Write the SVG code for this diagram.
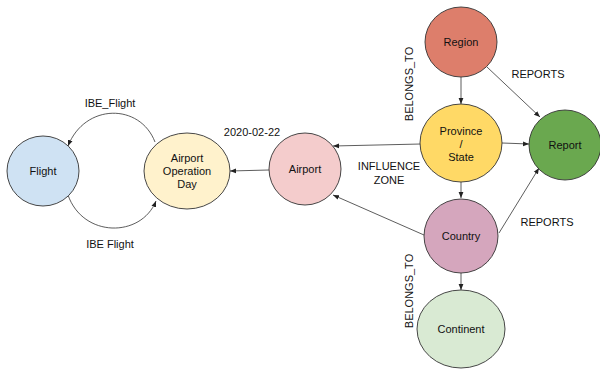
<svg xmlns="http://www.w3.org/2000/svg" width="600" height="369" viewBox="0 0 600 369">
<style>
.n{stroke:#333;stroke-width:0.9}
.t{font-family:"Liberation Sans",Arial,sans-serif;font-size:11px;fill:#111;text-anchor:middle}
.e{fill:none;stroke:#333;stroke-width:0.8;marker-end:url(#a)}
</style>
<defs>
<marker id="a" viewBox="0 0 10 10" refX="10" refY="5" markerWidth="6" markerHeight="6" markerUnits="userSpaceOnUse" orient="auto">
<path d="M0,1 L10,5 L0,9 z" fill="#222"/>
</marker>
</defs>
<rect width="600" height="369" fill="#fff"/>
<g id="connectors">
<path class="e" d="M461,77 L461,104"/>
<path class="e" d="M487,67 L540,117"/>
<path class="e" d="M502,143 L529,144"/>
<path class="e" d="M461,182 L461,198"/>
<path class="e" d="M421,144 L333,146"/>
<path class="e" d="M424,235 L333,195"/>
<path class="e" d="M499,233 L539,168"/>
<path class="e" d="M461,273 L461,290"/>
<path class="e" d="M269,170 L230,171"/>
<path class="e" d="M155,142 C140,103 85,103 68,146"/>
<path class="e" d="M68,195 C83,238 141,238 156,201"/>
<text class="t" x="110" y="107">IBE_Flight</text>
<text class="t" x="110" y="248">IBE Flight</text>
<text class="t" x="252" y="136">2020-02-22</text>
<text class="t" x="389" y="170">INFLUENCE</text>
<text class="t" x="389" y="184">ZONE</text>
<text class="t" transform="translate(413,84) rotate(-90)">BELONGS_TO</text>
<text class="t" transform="translate(413,291) rotate(-90)">BELONGS_TO</text>
<text class="t" x="538" y="78">REPORTS</text>
<text class="t" x="547" y="226">REPORTS</text>
</g>
<g id="flight"><ellipse class="n" cx="43" cy="171" rx="36" ry="35" fill="#cfe2f3"/><text class="t" x="43" y="175">Flight</text></g>
<g id="aod"><ellipse class="n" cx="187" cy="171" rx="43" ry="38" fill="#fff2cc"/><text class="t" x="187" y="162">Airport</text><text class="t" x="187" y="175">Operation</text><text class="t" x="187" y="188">Day</text></g>
<g id="airport"><ellipse class="n" cx="305" cy="169" rx="36" ry="36" fill="#f4cccc"/><text class="t" x="305" y="173">Airport</text></g>
<g id="region"><ellipse class="n" cx="461" cy="42" rx="36" ry="35" fill="#dd7e6b"/><text class="t" x="461" y="46">Region</text></g>
<g id="province"><ellipse class="n" cx="461" cy="143" rx="41" ry="39" fill="#ffd966"/><text class="t" x="461" y="135">Province</text><text class="t" x="461" y="148">/</text><text class="t" x="461" y="161">State</text></g>
<g id="report"><ellipse class="n" cx="565" cy="145" rx="36" ry="35" fill="#6aa84f"/><text class="t" x="565" y="149">Report</text></g>
<g id="country"><ellipse class="n" cx="461" cy="236" rx="37" ry="37" fill="#d5a6bd"/><text class="t" x="461" y="240">Country</text></g>
<g id="continent"><ellipse class="n" cx="461" cy="329" rx="44" ry="39" fill="#d9ead3"/><text class="t" x="461" y="333">Continent</text></g>
</svg>
